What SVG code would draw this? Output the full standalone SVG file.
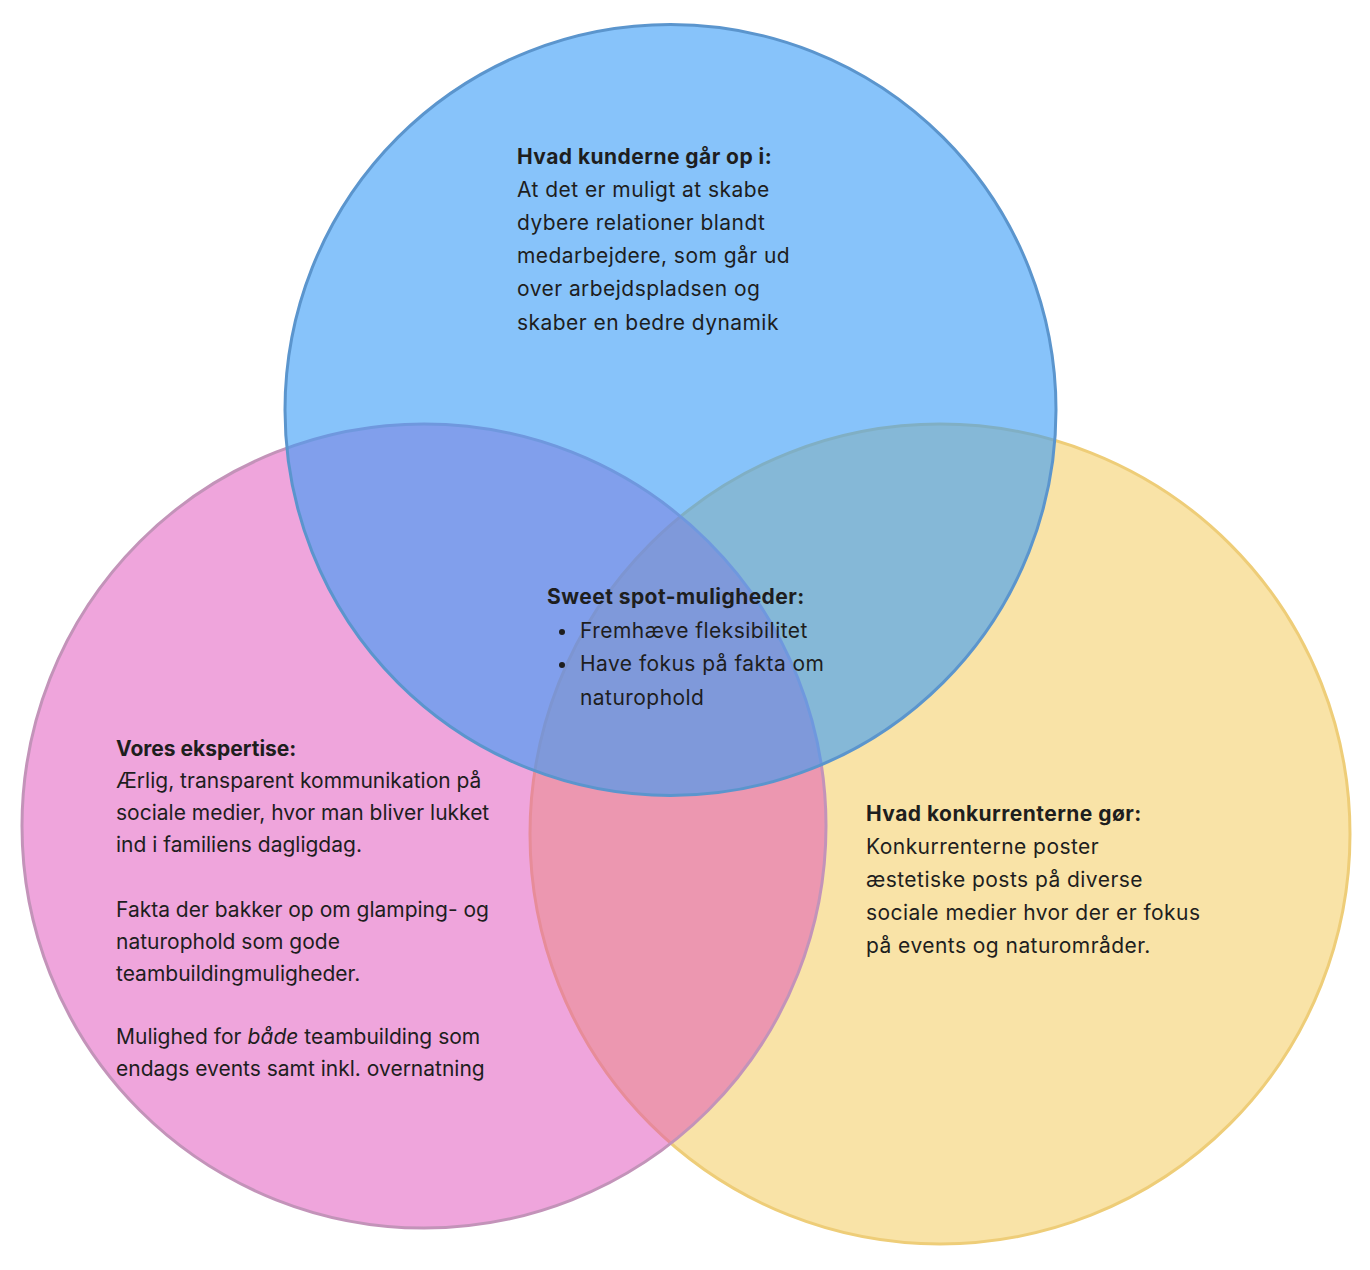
<svg xmlns="http://www.w3.org/2000/svg" width="1370" height="1270" viewBox="0 0 1370 1270">
<style>
  .t { font-family: Inter, "Noto Sans", "Liberation Sans", sans-serif; font-size: 21px; fill: #1e1e1e; }
  .w { letter-spacing: 0.45px; }
  .b { font-weight: 700; }
  .i { font-style: italic; }
</style>
<rect width="1370" height="1270" fill="#ffffff"/>
<g id="node-konkurrenter">
  <circle cx="940" cy="834" r="410" fill="#f9e3a7" stroke="#eecd78" stroke-width="3"/>
</g>
<g id="node-ekspertise">
  <circle cx="424" cy="826" r="402" fill="rgb(223,75,185)" fill-opacity="0.5" stroke="#c393b9" stroke-width="3"/>
</g>
<g id="node-kunder">
  <circle cx="670.5" cy="410" r="385.5" fill="rgb(55,155,247)" fill-opacity="0.6" stroke="#5b95cd" stroke-width="3"/>
</g>
<g id="connectors"></g>
<g id="text-kunder">
  <text x="517" y="164" class="t w b">Hvad kunderne går op i:</text>
  <text x="517" y="197" class="t w">At det er muligt at skabe</text>
  <text x="517" y="230" class="t w">dybere relationer blandt</text>
  <text x="517" y="263" class="t w">medarbejdere, som går ud</text>
  <text x="517" y="296" class="t w">over arbejdspladsen og</text>
  <text x="517" y="330" class="t w">skaber en bedre dynamik</text>
</g>
<g id="text-sweetspot">
  <text x="547" y="604" class="t w b">Sweet spot-muligheder:</text>
  <circle cx="562" cy="632" r="3" fill="#1e1e1e"/>
  <text x="580" y="638" class="t w">Fremhæve fleksibilitet</text>
  <circle cx="562" cy="665" r="3" fill="#1e1e1e"/>
  <text x="580" y="671" class="t w">Have fokus på fakta om</text>
  <text x="580" y="705" class="t w">naturophold</text>
</g>
<g id="text-ekspertise">
  <text x="116" y="756" class="t b">Vores ekspertise:</text>
  <text x="116" y="788" class="t">Ærlig, transparent kommunikation på</text>
  <text x="116" y="820" class="t">sociale medier, hvor man bliver lukket</text>
  <text x="116" y="852" class="t">ind i familiens dagligdag.</text>
  <text x="116" y="917" class="t">Fakta der bakker op om glamping- og</text>
  <text x="116" y="949" class="t">naturophold som gode</text>
  <text x="116" y="981" class="t">teambuildingmuligheder.</text>
  <text x="116" y="1044" class="t">Mulighed for <tspan class="i">både</tspan> teambuilding som</text>
  <text x="116" y="1076" class="t">endags events samt inkl. overnatning</text>
</g>
<g id="text-konkurrenter">
  <text x="866" y="821" class="t w b">Hvad konkurrenterne gør:</text>
  <text x="866" y="854" class="t w">Konkurrenterne poster</text>
  <text x="866" y="887" class="t w">æstetiske posts på diverse</text>
  <text x="866" y="920" class="t w">sociale medier hvor der er fokus</text>
  <text x="866" y="953" class="t w">på events og naturområder.</text>
</g>
</svg>
